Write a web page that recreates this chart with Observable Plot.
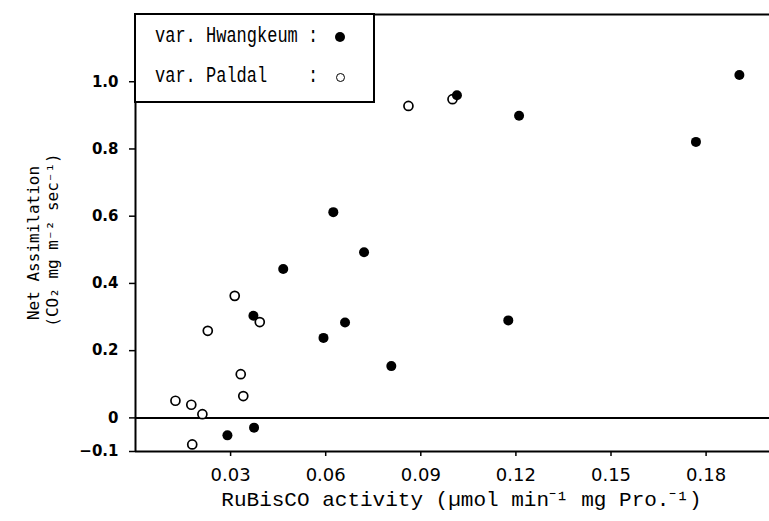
<!DOCTYPE html>
<html>
<head>
<meta charset="utf-8">
<script src="https://cdn.jsdelivr.net/npm/d3@7"></script>
<script src="https://cdn.jsdelivr.net/npm/@observablehq/plot@0.6"></script>
<style>
  html, body { margin: 0; padding: 0; background: #fff; }
  #wrap { position: relative; width: 769px; height: 521px; }
  #legend {
    position: absolute; left: 134px; top: 13px; width: 237px; height: 86px;
    border: 2px solid #000; background: #fff; box-sizing: content-box;
    font-family: "Liberation Mono", monospace; font-size: 17px; color: #000;
  }
  .lrow { position: absolute; left: 19px; white-space: pre; height: 24px; line-height: 24px; }
  .ltxt { display: inline-block; transform: scaleY(1.3); transform-origin: 50% 50%; }
  .sym { position: absolute; box-sizing: border-box; border-radius: 50%; }
</style>
</head>
<body>
<div id="wrap"></div>
<script>
// Data
const hwangkeumX = [0.1905, 0.1014, 0.121, 0.1768, 0.1176, 0.0807, 0.0624, 0.0721, 0.0466, 0.0372, 0.0593, 0.0661, 0.029, 0.0374];
const hwangkeumY = [1.020, 0.960, 0.899, 0.821, 0.290, 0.154, 0.612, 0.493, 0.443, 0.304, 0.238, 0.284, -0.052, -0.029];
const paldalX = [0.0861, 0.1000, 0.0313, 0.0228, 0.0392, 0.0332, 0.0340, 0.0126, 0.0176, 0.0211, 0.0179];
const paldalY = [0.928, 0.948, 0.363, 0.259, 0.285, 0.130, 0.065, 0.051, 0.039, 0.011, -0.079];
const xTicks = [0.03, 0.06, 0.09, 0.12, 0.15, 0.18];
const yTicks = [-0.1, 0, 0.2, 0.4, 0.6, 0.8, 1.0];
const xDomain = [0, 0.2];
const yDomain = [-0.1, 1.2];
const seriesNames = ["var. Hwangkeum", "var. Paldal"];
const xLabel = "RuBisCO activity (\u00b5mol min\u207b\u00b9 mg Pro.\u207b\u00b9)";
const yLabel1 = "Net Assimilation";
const yLabel2 = "(CO\u2082 mg m\u207b\u00b2 sec\u207b\u00b9)";

const hw = hwangkeumX.map((x, i) => ({x, y: hwangkeumY[i]}));
const pd = paldalX.map((x, i) => ({x, y: paldalY[i]}));

const chart = Plot.plot({
  width: 769,
  height: 521,
  marginLeft: 135,
  marginTop: 14,
  marginRight: 0,
  marginBottom: 70,
  style: {background: "#fff", color: "#000"},
  x: {domain: xDomain},
  y: {domain: yDomain},
  marks: [
    Plot.axisX({
      ticks: xTicks, tickFormat: d => d.toFixed(2), tickSize: 5, tickPadding: 12,
      strokeWidth: 1.5, fontSize: 18, fontFamily: "DejaVu Sans", label: null
    }),
    Plot.axisY({
      ticks: yTicks, tickFormat: d => d === 0 ? "0" : (d < 0 ? "\u2212" + Math.abs(d).toFixed(1) : d.toFixed(1)),
      tickSize: 6, tickPadding: 11, strokeWidth: 1.5,
      fontSize: 15, fontWeight: "bold", fontFamily: "DejaVu Sans", label: null
    }),
    Plot.ruleX([xDomain[0]], {stroke: "#000", strokeWidth: 2}),
    Plot.ruleY([yDomain[1]], {stroke: "#000", strokeWidth: 2}),
    Plot.ruleY([yDomain[0]], {stroke: "#000", strokeWidth: 2}),
    Plot.ruleY([0], {stroke: "#000", strokeWidth: 2}),
    Plot.dot(pd, {x: "x", y: "y", r: 4.5, fill: "#fff", stroke: "#000", strokeWidth: 1.7}),
    Plot.dot(hw, {x: "x", y: "y", r: 5, fill: "#000", stroke: "none"}),
    Plot.text([xLabel], {
      frameAnchor: "bottom", dy: 48, dx: 9, lineAnchor: "middle", textAnchor: "middle",
      fontSize: 21, fontFamily: "Liberation Mono", fill: "#000"
    }),
    Plot.text([yLabel1], {
      frameAnchor: "left", rotate: -90, dx: -102, dy: 10, lineAnchor: "middle", textAnchor: "middle",
      fontSize: 16, fontFamily: "DejaVu Sans Mono", fill: "#000"
    }),
    Plot.text([yLabel2], {
      frameAnchor: "left", rotate: -90, dx: -83, dy: 7, lineAnchor: "middle", textAnchor: "middle",
      fontSize: 16, fontFamily: "DejaVu Sans Mono", fill: "#000"
    })
  ]
});

const wrap = document.getElementById("wrap");
wrap.appendChild(chart);

// Legend box
const legend = document.createElement("div");
legend.id = "legend";
const rows = [
  {name: seriesNames[0], top: 10, filled: true},
  {name: seriesNames[1], top: 50, filled: false}
];
const pad = Math.max(...seriesNames.map(s => s.length));
for (const r of rows) {
  const row = document.createElement("div");
  row.className = "lrow";
  row.style.top = r.top + "px";
  const t = document.createElement("span");
  t.className = "ltxt";
  t.textContent = r.name.padEnd(pad, " ") + " :";
  row.appendChild(t);
  legend.appendChild(row);
  const s = document.createElement("span");
  s.className = "sym";
  if (r.filled) {
    s.style.cssText += "left:199px;top:" + (r.top + 7) + "px;width:10px;height:10px;background:#000;";
  } else {
    s.style.cssText += "left:199.5px;top:" + (r.top + 7.5) + "px;width:9px;height:9px;border:1.7px solid #000;background:#fff;";
  }
  legend.appendChild(s);
}
wrap.appendChild(legend);
</script>
</body>
</html>
